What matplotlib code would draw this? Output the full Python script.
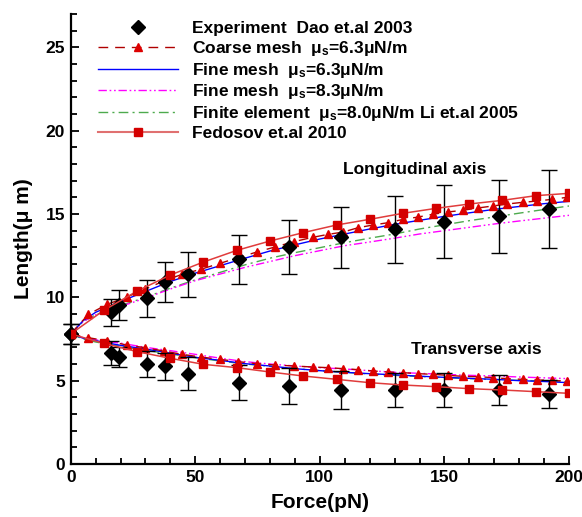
import matplotlib
matplotlib.use("Agg")
import matplotlib.pyplot as plt
from matplotlib.lines import Line2D
from matplotlib.ticker import MultipleLocator

plt.rcParams['font.family'] = ['Liberation Sans', 'DejaVu Sans']
plt.rcParams['font.weight'] = 'bold'
plt.rcParams['mathtext.default'] = 'regular'

# experiment, Dao et al 2003
force_exp = [0, 16, 19.5, 30.5, 38, 47, 67.5, 87.5, 108.5, 130, 150, 172, 192]
long_exp = [7.8, 9.1, 9.55, 9.95, 10.9, 11.38, 12.28, 13.02, 13.62, 14.08, 14.54, 14.86, 15.3]
long_err = [0.6, 0.83, 0.92, 1.1, 1.2, 1.35, 1.45, 1.6, 1.83, 2.0, 2.2, 2.2, 2.33]
trans_exp = [7.8, 6.65, 6.45, 6.02, 5.86, 5.42, 4.88, 4.68, 4.44, 4.44, 4.44, 4.44, 4.2]
trans_err = [0.6, 0.73, 0.6, 0.77, 0.8, 1.0, 1.06, 1.06, 1.12, 1.0, 1.0, 0.9, 0.84]

# coarse mesh, mu_s = 6.3
force_coarse = [0, 7.1, 14.7, 22.5, 29.8, 37.3, 44.7, 52.2, 59.9, 67.3, 74.7, 82.0, 89.6,
                97.1, 103.4, 109.4, 115.4, 121.4, 127.4, 133.5, 139.5, 145.3, 151.3,
                157.3, 163.4, 169.4, 175.2, 181.4, 187.3, 193.3, 199.1]
long_coarse = [7.8, 8.98, 9.58, 10.02, 10.48, 10.98, 11.38, 11.68, 12.04, 12.38, 12.72,
               13.02, 13.34, 13.6, 13.78, 13.92, 14.18, 14.34, 14.48, 14.68, 14.82, 14.98,
               15.12, 15.22, 15.36, 15.48, 15.6, 15.7, 15.78, 15.88, 16.0]
trans_coarse = [7.8, 7.58, 7.38, 7.14, 6.98, 6.78, 6.58, 6.42, 6.28, 6.14, 6.02, 5.94,
                5.88, 5.82, 5.78, 5.72, 5.66, 5.58, 5.52, 5.48, 5.42, 5.38, 5.32, 5.26,
                5.24, 5.18, 5.12, 5.08, 5.04, 5.02, 4.97]

# fine mesh curves and finite element (Li et al 2005)
force_fine = [0, 5, 10, 20, 30, 40, 50, 60, 70, 80, 90, 100, 110, 120, 130, 140, 150,
              160, 170, 180, 190, 200]
long_fine63 = [7.8, 8.6, 9.1, 9.75, 10.35, 10.95, 11.45, 11.9, 12.35, 12.78, 13.15, 13.5,
               13.8, 14.1, 14.38, 14.62, 14.86, 15.07, 15.28, 15.45, 15.62, 15.76]
trans_fine63 = [7.8, 7.55, 7.4, 7.12, 6.9, 6.65, 6.4, 6.22, 6.02, 5.88, 5.72, 5.6, 5.5,
                5.42, 5.35, 5.27, 5.2, 5.14, 5.08, 5.0, 4.95, 4.88]
long_fine83 = [7.8, 8.55, 8.95, 9.45, 9.95, 10.5, 11.0, 11.4, 11.8, 12.15, 12.5, 12.8,
               13.1, 13.32, 13.55, 13.8, 14.0, 14.2, 14.4, 14.58, 14.75, 14.92]
trans_fine83 = [7.8, 7.58, 7.45, 7.25, 7.0, 6.8, 6.58, 6.35, 6.14, 6.0, 5.88, 5.78, 5.7,
                5.6, 5.5, 5.44, 5.38, 5.32, 5.28, 5.22, 5.17, 5.12]
long_fe = [7.8, 8.55, 8.95, 9.5, 10.0, 10.55, 11.05, 11.5, 11.95, 12.35, 12.68, 12.98,
           13.28, 13.55, 13.8, 14.1, 14.35, 14.6, 14.82, 15.05, 15.27, 15.48]
trans_fe = [7.8, 7.5, 7.32, 7.06, 6.82, 6.6, 6.38, 6.18, 6.0, 5.86, 5.72, 5.6, 5.5, 5.4,
            5.32, 5.25, 5.18, 5.12, 5.06, 5.02, 4.98, 4.94]

# Fedosov et al 2010
force_fed = [0, 13.3, 26.7, 40, 53.3, 66.7, 80, 93.3, 106.7, 120, 133.3, 146.7, 160,
             173.3, 186.7, 200]
long_fed = [7.8, 9.22, 10.38, 11.34, 12.12, 12.82, 13.38, 13.88, 14.34, 14.68, 15.04,
            15.34, 15.6, 15.82, 16.1, 16.24]
trans_fed = [7.8, 7.24, 6.74, 6.34, 5.98, 5.78, 5.52, 5.28, 5.08, 4.88, 4.74, 4.64, 4.52,
             4.44, 4.34, 4.24]

labels = ['Experiment  Dao et.al 2003',
          'Coarse mesh  μ$_{s}$=6.3μN/m',
          'Fine mesh  μ$_{s}$=6.3μN/m',
          'Fine mesh  μ$_{s}$=8.3μN/m',
          'Finite element  μ$_{s}$=8.0μN/m Li et.al 2005',
          'Fedosov et.al 2010']

c_coarse = '#b00000'
c_fine63 = '#0000ff'
c_fine83 = '#ff00ff'
c_fe = '#4daa4d'
c_fed = '#e03c3c'
c_sq = '#d40000'
dash_coarse = (0, (7, 5))
dash_fe = (0, (7, 3, 1.5, 3))
dash_83 = (0, (6, 2, 1.2, 2, 1.2, 2))

fig = plt.figure(figsize=(5.82, 5.17), dpi=100)
ax = fig.add_axes([70.7 / 582, 1 - 464 / 517, (569 - 70.7) / 582, (464 - 14) / 517])

for y in (long_fe, trans_fe):
    ax.plot(force_fine, y, color=c_fe, lw=1, linestyle=dash_fe)
for y in (long_fine83, trans_fine83):
    ax.plot(force_fine, y, color=c_fine83, lw=1, linestyle=dash_83)
for y in (long_fine63, trans_fine63):
    ax.plot(force_fine, y, color=c_fine63, lw=1)
for y in (long_coarse, trans_coarse):
    ax.plot(force_coarse, y, color=c_coarse, lw=1, linestyle=dash_coarse,
            marker='^', ms=6, mfc='#dd0000', mec='#dd0000')

for y, e in ((long_exp, long_err), (trans_exp, trans_err)):
    ax.errorbar(force_exp, y, yerr=e, fmt='D', color='black', ms=7.5,
                ecolor='black', elinewidth=1, capsize=6, capthick=1, clip_on=False,
                zorder=3)

for y in (long_fed, trans_fed):
    ax.plot(force_fed, y, color=c_fed, lw=1.1, marker='s', ms=6.2,
            mfc=c_sq, mec=c_sq, zorder=4)

ax.set_xlim(0, 200)
ax.set_ylim(0, 27)
ax.xaxis.set_major_locator(MultipleLocator(50))
ax.xaxis.set_minor_locator(MultipleLocator(10))
ax.yaxis.set_major_locator(MultipleLocator(5))
ax.yaxis.set_minor_locator(MultipleLocator(1))
ax.tick_params(which='both', direction='in', width=1.3, labelsize=12.5, pad=4)
ax.tick_params(which='major', length=6)
ax.tick_params(which='minor', length=4)
ax.spines['top'].set_visible(False)
ax.spines['right'].set_visible(False)
ax.spines['left'].set_linewidth(1.6)
ax.spines['bottom'].set_linewidth(1.6)
for lab in ax.get_xticklabels() + ax.get_yticklabels():
    lab.set_fontweight('bold')

ax.set_xlabel('Force(pN)', fontsize=15, fontweight='bold', labelpad=6)
ax.set_ylabel('Length(μ m)', fontsize=15, fontweight='bold', labelpad=9)

ax.text(109.2, 17.7, 'Longitudinal axis', fontsize=12.5, fontweight='bold',
        ha='left', va='center')
ax.text(136.5, 6.84, 'Transverse axis', fontsize=12.5, fontweight='bold',
        ha='left', va='center')

handles = [
    Line2D([], [], linestyle='none', marker='D', color='black', ms=7.5),
    Line2D([], [], color=c_coarse, lw=1, linestyle=dash_coarse, marker='^', ms=6,
           mfc='#dd0000', mec='#dd0000'),
    Line2D([], [], color=c_fine63, lw=1),
    Line2D([], [], color=c_fine83, lw=1, linestyle=dash_83),
    Line2D([], [], color=c_fe, lw=1, linestyle=dash_fe),
    Line2D([], [], color='#e07070', lw=1.5, marker='s', ms=6.2, mfc=c_sq, mec=c_sq),
]
fig.legend(handles, labels, loc='upper left', bbox_to_anchor=(98 / 582, 1 - 21 / 517),
           frameon=False, fontsize=12.5, handlelength=4.6, handletextpad=0.8,
           labelspacing=0.16, borderpad=0, borderaxespad=0, markerscale=1,
           numpoints=1)

fig.savefig('out.png', dpi=100)
